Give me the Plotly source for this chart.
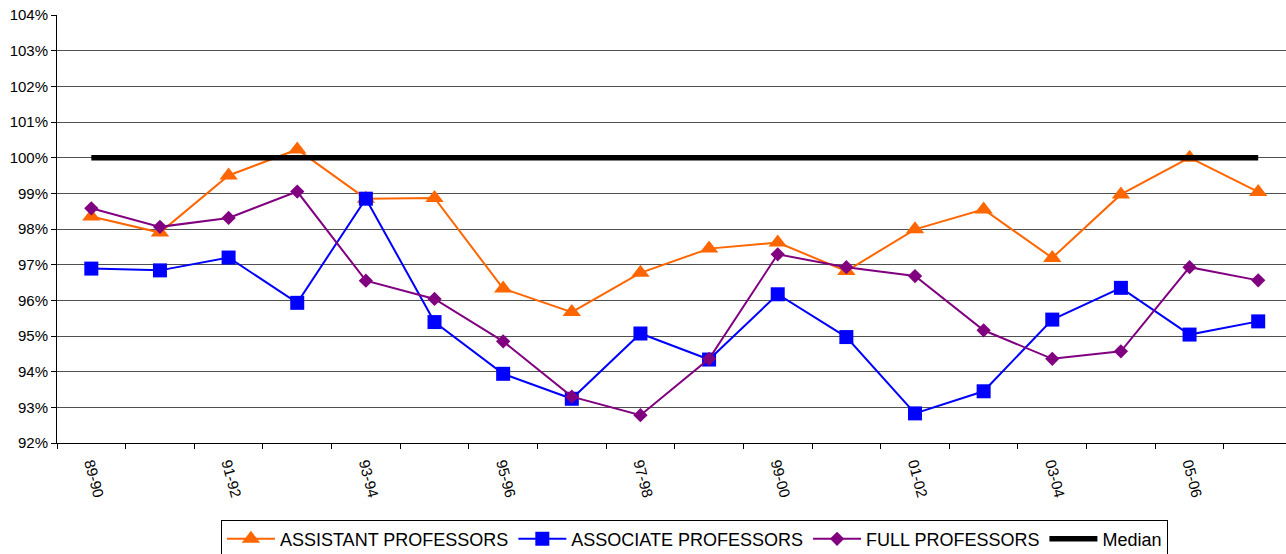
import plotly.graph_objects as go

# Academic years shown along the horizontal axis
years = ["89-90", "90-91", "91-92", "92-93", "93-94", "94-95", "95-96", "96-97", "97-98",
         "98-99", "99-00", "00-01", "01-02", "02-03", "03-04", "04-05", "05-06", "06-07"]

# Salary as a percent of the peer median, by rank
assistant = [98.35, 97.90, 99.50, 100.23, 98.85, 98.87, 96.33, 95.67, 96.77,
             97.45, 97.62, 96.82, 97.99, 98.55, 97.19, 98.97, 100.00, 99.04]
associate = [96.89, 96.84, 97.20, 95.93, 98.85, 95.39, 93.94, 93.24, 95.07,
             94.34, 96.17, 94.97, 92.83, 93.45, 95.46, 96.35, 95.04, 95.41]
full = [98.58, 98.06, 98.31, 99.05, 96.55, 96.04, 94.85, 93.30, 92.78,
        94.36, 97.29, 96.93, 96.68, 95.16, 94.36, 94.57, 96.93, 96.56]
median = [100.0] * len(years)

x = list(range(len(years)))
label_idx = x[::2]

FONT = "Arial, Liberation Sans, sans-serif"

fig = go.Figure()
fig.add_trace(go.Scatter(
    x=x, y=assistant, name="ASSISTANT PROFESSORS", mode="lines+markers",
    line=dict(color="#FF6600", width=2),
    marker=dict(symbol="triangle-up", size=16, color="#FF6600"),
))
fig.add_trace(go.Scatter(
    x=x, y=associate, name="ASSOCIATE PROFESSORS", mode="lines+markers",
    line=dict(color="#0000FF", width=2),
    marker=dict(symbol="square", size=14, color="#0000FF"),
))
fig.add_trace(go.Scatter(
    x=x, y=full, name="FULL PROFESSORS", mode="lines+markers",
    line=dict(color="#800080", width=2),
    marker=dict(symbol="diamond", size=11, color="#800080"),
))
fig.add_trace(go.Scatter(
    x=x, y=median, name="Median", mode="lines",
    line=dict(color="#000000", width=5.5),
))

fig.update_layout(
    width=1286, height=554,
    margin=dict(l=57, r=0, t=15, b=111),
    paper_bgcolor="white", plot_bgcolor="white",
    font=dict(family=FONT, color="#000000", size=15),
    showlegend=True,
    legend=dict(
        orientation="h", xref="container", yref="container",
        x=0.54, xanchor="center", y=0.062, yanchor="top",
        bordercolor="#000000", borderwidth=1, bgcolor="white",
        font=dict(size=18, family=FONT), itemwidth=48, tracegroupgap=0,
    ),
    xaxis=dict(
        range=[-0.5, 17.405],
        tickmode="array", tickvals=label_idx, ticktext=[years[i] for i in label_idx],
        tickangle=75, ticks="", showgrid=False, zeroline=False,
        showline=True, linecolor="#000000", linewidth=1,
        minor=dict(tick0=-0.5, dtick=1, ticks="outside", ticklen=5,
                   tickcolor="#000000", showgrid=False),
        tickfont=dict(size=15), ticklabelstandoff=5,
    ),
    yaxis=dict(
        range=[92, 104], dtick=1, ticksuffix="%",
        showgrid=True, gridcolor="#505050", gridwidth=1,
        zeroline=False, showline=True, linecolor="#000000", linewidth=1,
        ticks="outside", ticklen=5, tickcolor="#000000",
        tickfont=dict(size=15),
    ),
)

fig.write_html("out.html")
